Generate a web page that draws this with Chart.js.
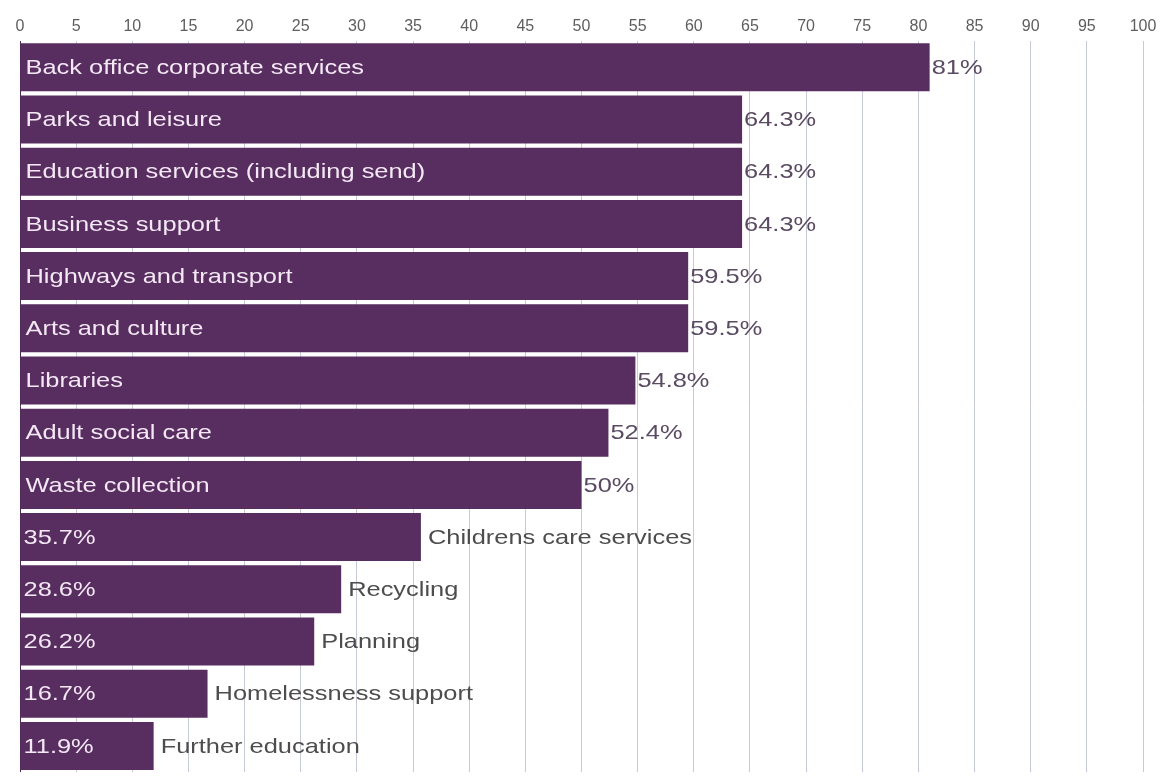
<!DOCTYPE html>
<html>
<head>
<meta charset="utf-8">
<script src="https://cdn.jsdelivr.net/npm/chart.js@4/dist/chart.umd.min.js"></script>
<style>
  html, body { margin: 0; padding: 0; background: #fff; }
  #wrap { width: 1163px; height: 776px; position: relative; }
</style>
</head>
<body>
<div id="wrap"><canvas id="chart"></canvas></div>
<script>
// data
var services = ['Back office corporate services', 'Parks and leisure', 'Education services (including send)',
    'Business support', 'Highways and transport', 'Arts and culture', 'Libraries', 'Adult social care',
    'Waste collection', 'Childrens care services', 'Recycling', 'Planning', 'Homelessness support',
    'Further education'];
var percents = [81, 64.3, 64.3, 64.3, 59.5, 59.5, 54.8, 52.4, 50, 35.7, 28.6, 26.2, 16.7, 11.9];
var tickLabels = ['0', '5', '10', '15', '20', '25', '30', '35', '40', '45', '50',
    '55', '60', '65', '70', '75', '80', '85', '90', '95', '100'];

var barColor = '#582d60';
var stretch = 1.21;

function stretchedText(ctx, txt, x, y, color) {
    ctx.save();
    ctx.translate(x, y);
    ctx.scale(stretch, 1);
    ctx.fillStyle = color;
    ctx.fillText(txt, 0, 0);
    ctx.restore();
}

// names inside the long bars, values inside the short ones
var barLabels = {
    id: 'barLabels',
    afterDatasetsDraw: function (chart) {
        var ctx = chart.ctx;
        var meta = chart.getDatasetMeta(0);
        ctx.save();
        ctx.font = '21px "Liberation Sans", Arial, sans-serif';
        ctx.textBaseline = 'middle';
        ctx.textAlign = 'left';
        meta.data.forEach(function (bar, i) {
            var v = percents[i];
            var valTxt = v + '%';
            var y = bar.y + 1;
            if (v >= 50) {
                stretchedText(ctx, services[i], bar.base + 5, y, '#f3e8f4');
                stretchedText(ctx, valTxt, bar.x + 2, y, '#5a4a62');
            } else {
                stretchedText(ctx, valTxt, bar.base + 3, y, '#f3e8f4');
                stretchedText(ctx, services[i], bar.x + 7, y, '#4d4d4d');
            }
        });
        ctx.restore();
    }
};

const ctx = document.getElementById('chart');
const myChart = new Chart(ctx, {
    type: 'bar',
    data: {
        labels: services,
        datasets: [{
            data: percents,
            backgroundColor: barColor,
            borderWidth: 0,
            barPercentage: 0.92,
            categoryPercentage: 1
        }]
    },
    options: {
        indexAxis: 'y',
        responsive: true,
        maintainAspectRatio: false,
        animation: false,
        layout: { padding: { top: 12, left: 20, right: 20, bottom: 4 } },
        plugins: {
            legend: { display: false },
            tooltip: { enabled: false }
        },
        scales: {
            x: {
                position: 'top',
                min: 0,
                max: 100,
                ticks: {
                    stepSize: 5,
                    padding: 5,
                    color: '#5e5e5e',
                    font: { size: 16, family: '"Liberation Sans", Arial, sans-serif' },
                    callback: function (val, idx) { return tickLabels[idx]; }
                },
                grid: {
                    drawTicks: false,
                    color: function (c) { return c.tick && c.tick.value === 0 ? '#4a2a52' : '#c6cad6'; },
                    lineWidth: 1
                },
                border: { display: false }
            },
            y: {
                display: false
            }
        }
    },
    plugins: [barLabels]
});
</script>
</body>
</html>
